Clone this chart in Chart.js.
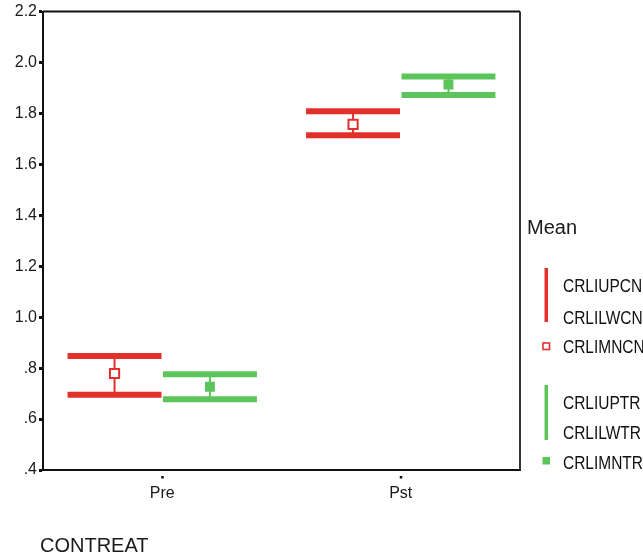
<!DOCTYPE html>
<html>
<head>
<meta charset="utf-8">
<script src="https://cdn.jsdelivr.net/npm/chart.js@4/dist/chart.umd.min.js"></script>
<style>
html,body{margin:0;padding:0;background:#fff;}
#wrap{width:643px;height:556px;}
</style>
</head>
<body>
<div id="wrap"><canvas id="c" width="643" height="556"></canvas></div>
<script>
const categories = ['Pre', 'Pst'];
const categoryPositions = [0.5, 1.5];
const controlUpper = [0.848, 1.809];
const controlLower = [0.695, 1.714];
const controlMean  = [0.779, 1.757];
const treatUpper   = [0.776, 1.945];
const treatLower   = [0.678, 1.873];
const treatMean    = [0.727, 1.914];
const yTickValues  = [0.4, 0.6, 0.8, 1.0, 1.2, 1.4, 1.6, 1.8, 2.0, 2.2];
const yTickLabels  = ['.4', '.6', '.8', '1.0', '1.2', '1.4', '1.6', '1.8', '2.0', '2.2'];
const legendTitle = 'Mean';
const legendControl = ['CRLIUPCN', 'CRLILWCN', 'CRLIMNCN'];
const legendTreat   = ['CRLIUPTR', 'CRLILWTR', 'CRLIMNTR'];
const xTitle = 'CONTREAT';

const RED = '#e3302b';
const GREEN = '#5cc55a';
const OFFSET = 0.2;
const HALF = 0.197;

const series = [
  {upper: controlUpper, lower: controlLower, color: RED, off: -OFFSET},
  {upper: treatUpper, lower: treatLower, color: GREEN, off: OFFSET}
];

const errorPlugin = {
  id: 'errorBars',
  beforeDatasetsDraw(chart) {
    const ctx = chart.ctx, xs = chart.scales.x, ys = chart.scales.y;
    ctx.save();
    series.forEach(s => {
      categoryPositions.forEach((p, i) => {
        const xc = xs.getPixelForValue(p + s.off);
        const xl = xs.getPixelForValue(p + s.off - HALF);
        const xr = xs.getPixelForValue(p + s.off + HALF);
        const yu = ys.getPixelForValue(s.upper[i]);
        const yl = ys.getPixelForValue(s.lower[i]);
        ctx.strokeStyle = s.color;
        ctx.lineCap = 'butt';
        ctx.lineWidth = 2;
        ctx.beginPath(); ctx.moveTo(xc, yu); ctx.lineTo(xc, yl); ctx.stroke();
        ctx.lineWidth = 6;
        ctx.beginPath(); ctx.moveTo(xl, yu); ctx.lineTo(xr, yu); ctx.stroke();
        ctx.beginPath(); ctx.moveTo(xl, yl); ctx.lineTo(xr, yl); ctx.stroke();
      });
    });
    ctx.restore();
  },
  afterDraw(chart) {
    const ctx = chart.ctx, a = chart.chartArea, xs = chart.scales.x;
    ctx.save();
    ctx.strokeStyle = '#111';
    ctx.lineWidth = 2;
    ctx.beginPath(); ctx.moveTo(a.left, a.top); ctx.lineTo(a.right, a.top); ctx.stroke();
    ctx.strokeStyle = '#333';
    ctx.beginPath(); ctx.moveTo(a.right, a.top); ctx.lineTo(a.right, a.bottom); ctx.stroke();
    ctx.fillStyle = '#111';
    categoryPositions.forEach(p => {
      const x = xs.getPixelForValue(p);
      ctx.fillRect(x - 1, a.bottom + 6, 2.5, 2.5);
    });
    ctx.fillStyle = '#1a1a1a';
    ctx.font = '20px "Liberation Sans", Arial, sans-serif';
    ctx.textBaseline = 'alphabetic';
    ctx.textAlign = 'left';
    ctx.fillText(xTitle, 40, 552);
    ctx.font = '20px "Liberation Sans", Arial, sans-serif';
    ctx.textBaseline = 'middle';
    ctx.fillText(legendTitle, 527, 228);
    ctx.fillStyle = RED;
    ctx.fillRect(544.5, 268, 3.5, 54);
    ctx.strokeStyle = RED; ctx.lineWidth = 1.6;
    ctx.strokeRect(543, 343, 6.5, 6.5);
    ctx.fillStyle = GREEN;
    ctx.fillRect(544.5, 385, 3.5, 55);
    ctx.fillRect(542.5, 457, 7.5, 7.5);
    const drawTxt = (t, y) => {
      ctx.save();
      ctx.translate(563, y);
      ctx.scale(0.86, 1);
      ctx.fillStyle = '#111';
      ctx.font = '18px "Liberation Sans", Arial, sans-serif';
      ctx.textBaseline = 'middle';
      ctx.fillText(t, 0, 0);
      ctx.restore();
    };
    drawTxt(legendControl[0], 287);
    drawTxt(legendControl[1], 319);
    drawTxt(legendControl[2], 348);
    drawTxt(legendTreat[0], 404);
    drawTxt(legendTreat[1], 434);
    drawTxt(legendTreat[2], 464);
    ctx.restore();
  }
};

new Chart(document.getElementById('c'), {
  type: 'scatter',
  data: {
    datasets: [
      {
        label: legendControl[2],
        data: categoryPositions.map((p, i) => ({x: p - OFFSET, y: controlMean[i]})),
        pointStyle: 'rect', pointRadius: 6.5, pointBorderWidth: 2,
        pointBackgroundColor: '#fff', pointBorderColor: RED
      },
      {
        label: legendTreat[2],
        data: categoryPositions.map((p, i) => ({x: p + OFFSET, y: treatMean[i]})),
        pointStyle: 'rect', pointRadius: 7, pointBorderWidth: 0,
        pointBackgroundColor: GREEN, pointBorderColor: GREEN
      }
    ]
  },
  options: {
    responsive: false,
    animation: false,
    devicePixelRatio: 1,
    layout: {padding: {top: 11, right: 123, left: 0, bottom: 0}},
    plugins: {legend: {display: false}, tooltip: {enabled: false}},
    scales: {
      x: {
        type: 'linear', min: 0, max: 2,
        afterBuildTicks(scale) { scale.ticks = categoryPositions.map(v => ({value: v})); },
        afterFit(scale) { scale.height = 86; },
        ticks: {
          callback(v) { const i = categoryPositions.indexOf(v); return i >= 0 ? categories[i] : ''; },
          font: {size: 16, family: '"Liberation Sans", Arial, sans-serif'},
          color: '#1a1a1a', padding: 6, maxRotation: 0, autoSkip: false
        },
        grid: {display: false},
        border: {display: true, color: '#111', width: 2}
      },
      y: {
        min: 0.4, max: 2.2,
        afterBuildTicks(scale) { scale.ticks = yTickValues.map(v => ({value: v})); },
        afterFit(scale) { scale.width = 43; },
        ticks: {
          callback(v) { const i = yTickValues.findIndex(t => Math.abs(t - v) < 1e-6); return i >= 0 ? yTickLabels[i] : ''; },
          font: {size: 16, family: '"Liberation Sans", Arial, sans-serif'},
          color: '#1a1a1a', padding: 2, autoSkip: false
        },
        grid: {drawOnChartArea: false, drawTicks: true, tickLength: 4, tickWidth: 3, color: '#111'},
        border: {display: true, color: '#111', width: 2}
      }
    }
  },
  plugins: [errorPlugin]
});
</script>
</body>
</html>
